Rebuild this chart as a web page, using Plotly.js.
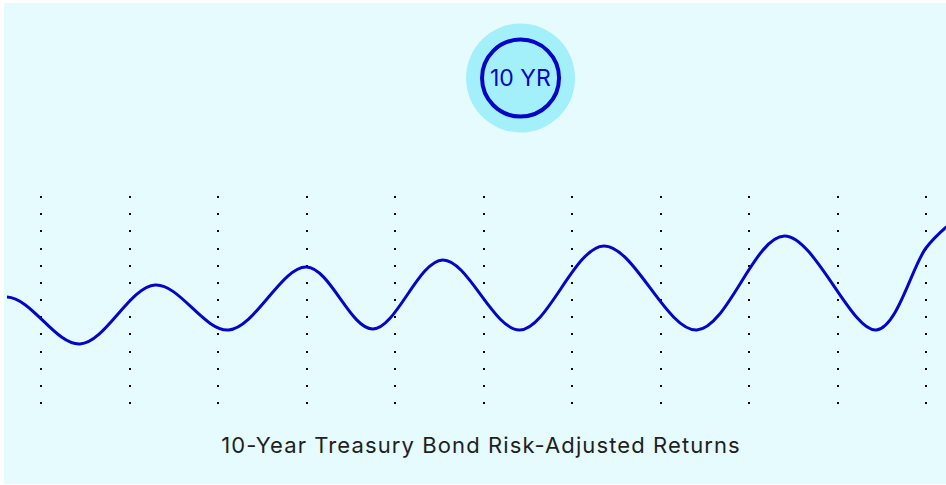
<!DOCTYPE html>
<html>
<head>
<meta charset="utf-8">
<script src="https://cdn.plot.ly/plotly-3.0.1.min.js"></script>
<style>
  html, body { margin: 0; padding: 0; background: #ffffff; }
  #chart { position: absolute; left: 4px; top: 3px; width: 942px; height: 481px; }
  #chart .gtitle { letter-spacing: 1.1px; }
</style>
</head>
<body>
<div id="chart"></div>
<script>
// turning points of the return curve, in years (grid lines sit on whole years)
const years = [-1.2, -0.384, 0.44, 1.29, 2.12, 3.0, 3.75, 4.54, 5.41, 6.36, 7.41, 8.40, 9.44, 10.0, 10.23];
// risk-adjusted return index at those points
const returns = [-0.5, 3.3, -1.4, 4.5, 0.0, 6.3, 0.1, 7.0, 0.0, 8.4, 0.0, 9.4, 0.0, 8.2, 10.3];
const gridYears = [0, 1, 2, 3, 4, 5, 6, 7, 8, 9, 10];
const chartTitle = '10-Year Treasury Bond Risk-Adjusted Returns';
const badgeText = '10 YR';

const blue = '#0505c8';

const trace = {
  x: years,
  y: returns,
  mode: 'lines',
  line: { color: blue, width: 3, shape: 'spline', smoothing: 1 },
  hoverinfo: 'skip'
};

const layout = {
  width: 942,
  height: 481,
  margin: { l: 3, r: 0, t: 193, b: 80 },
  paper_bgcolor: '#e5fbfd',
  plot_bgcolor: 'rgba(0,0,0,0)',
  showlegend: false,
  title: {
    text: chartTitle,
    x: 0.5064, xref: 'container', xanchor: 'center',
    y: 0.080, yref: 'container', yanchor: 'middle',
    font: { family: 'Inter, sans-serif', size: 22, color: '#1f1f1f' }
  },
  xaxis: {
    range: [-0.3842, 10.226],
    tickvals: gridYears,
    showticklabels: false,
    ticks: '',
    showgrid: true,
    gridcolor: '#000000',
    gridwidth: 2,
    griddash: '2px,15.17px',
    zeroline: false,
    showline: false,
    fixedrange: true
  },
  yaxis: {
    range: [-7.4, 13.4],
    visible: false,
    showgrid: false,
    zeroline: false,
    fixedrange: true
  },
  shapes: [
    {
      type: 'circle', xref: 'paper', yref: 'paper',
      xsizemode: 'pixel', ysizemode: 'pixel',
      xanchor: 0.5469, yanchor: 1.567,
      x0: -54.5, x1: 54.5, y0: -54.5, y1: 54.5,
      fillcolor: '#a3f0fb', line: { width: 0 }, layer: 'above'
    },
    {
      type: 'circle', xref: 'paper', yref: 'paper',
      xsizemode: 'pixel', ysizemode: 'pixel',
      xanchor: 0.5469, yanchor: 1.567,
      x0: -38.5, x1: 38.5, y0: -38.5, y1: 38.5,
      fillcolor: 'rgba(0,0,0,0)', line: { color: blue, width: 4 }, layer: 'above'
    }
  ],
  annotations: [
    {
      text: badgeText, xref: 'paper', yref: 'paper',
      x: 0.5469, y: 1.567, xanchor: 'center', yanchor: 'middle',
      showarrow: false,
      font: { family: 'Inter, sans-serif', size: 23, color: blue }
    }
  ]
};

Plotly.newPlot('chart', [trace], layout, { displayModeBar: false, staticPlot: true });
</script>
</body>
</html>
